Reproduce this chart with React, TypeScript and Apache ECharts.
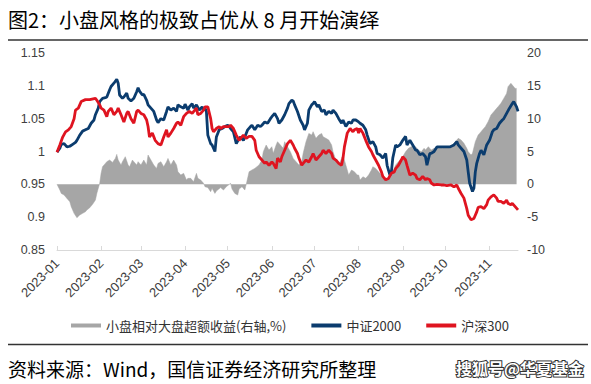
import React, { useEffect, useRef } from 'react';
import * as echarts from 'echarts';

// Day offsets from 2023-01-01 of each month start, and their tick labels
const monthStartDays = [0, 31, 59, 90, 120, 151, 181, 212, 243, 273, 304];
const monthLabels = ['2023-01', '2023-02', '2023-03', '2023-04', '2023-05', '2023-06', '2023-07', '2023-08', '2023-09', '2023-10', '2023-11'];

const seriesNames = ['小盘相对大盘超额收益(右轴,%)', '中证2000', '沪深300'];

// [day offset from 2023-01-01, normalized index]
const csi2000: [number, number][] = [
  [0, 0.999], [2, 1.005], [3, 1.011], [5, 1.012], [7, 1.007], [9, 1.008], [11, 1.011], [13, 1.014], [14, 1.017], [16, 1.025],
  [18, 1.031], [20, 1.033], [22, 1.035], [24, 1.043], [26, 1.048], [27, 1.056], [29, 1.066], [30, 1.076], [32, 1.081], [34, 1.082],
  [35, 1.083], [37, 1.094], [38, 1.099], [40, 1.104], [42, 1.110], [43, 1.104], [44, 1.086], [46, 1.081], [47, 1.083], [49, 1.089],
  [50, 1.081], [52, 1.077], [54, 1.081], [56, 1.091], [57, 1.097], [58, 1.092], [60, 1.086], [61, 1.087], [63, 1.078], [64, 1.071],
  [66, 1.066], [68, 1.061], [70, 1.048], [71, 1.044], [73, 1.050], [75, 1.048], [77, 1.061], [78, 1.068], [80, 1.063], [82, 1.066],
  [84, 1.061], [85, 1.071], [87, 1.068], [89, 1.066], [90, 1.072], [92, 1.063], [93, 1.068], [95, 1.073], [96, 1.066], [98, 1.071],
  [100, 1.063], [102, 1.068], [103, 1.063], [104, 1.066], [105, 1.061], [106, 1.025], [108, 1.012], [109, 1.010], [111, 1.000], [112, 1.022],
  [114, 1.033], [116, 1.035], [118, 1.038], [120, 1.040], [121, 1.038], [122, 1.035], [124, 1.030], [126, 1.012], [128, 1.020], [129, 1.022],
  [131, 1.017], [132, 1.022], [134, 1.033], [136, 1.038], [137, 1.040], [139, 1.033], [141, 1.040], [143, 1.038], [144, 1.040], [146, 1.045],
  [148, 1.043], [150, 1.050], [151, 1.053], [153, 1.058], [155, 1.050], [156, 1.043], [158, 1.048], [160, 1.056], [162, 1.066], [163, 1.073],
  [165, 1.078], [166, 1.077], [167, 1.071], [169, 1.061], [171, 1.048], [173, 1.040], [174, 1.033], [176, 1.043], [177, 1.063], [179, 1.071],
  [180, 1.073], [181, 1.076], [183, 1.068], [184, 1.071], [186, 1.061], [188, 1.063], [189, 1.056], [191, 1.061], [193, 1.058], [194, 1.063],
  [196, 1.058], [198, 1.050], [200, 1.043], [201, 1.048], [203, 1.038], [205, 1.045], [207, 1.043], [208, 1.048], [210, 1.048], [212, 1.045],
  [213, 1.043], [215, 1.040], [217, 1.033], [218, 1.025], [220, 1.012], [222, 1.015], [224, 1.007], [225, 0.997], [227, 0.995], [229, 0.990],
  [231, 0.997], [232, 0.979], [234, 0.964], [235, 0.969], [236, 0.990], [238, 1.010], [239, 1.007], [241, 1.010], [243, 1.017], [245, 1.023],
  [246, 1.010], [248, 1.017], [250, 1.010], [252, 1.002], [253, 1.002], [255, 0.995], [257, 0.997], [259, 0.992], [260, 0.979], [262, 0.997],
  [263, 0.997], [265, 1.000], [267, 1.007], [269, 1.007], [272, 1.007], [274, 1.007], [276, 1.007], [279, 1.010], [281, 1.015], [282, 1.010],
  [284, 1.005], [286, 1.000], [288, 0.987], [289, 0.969], [290, 0.952], [292, 0.939], [293, 0.944], [294, 0.969], [295, 0.982], [297, 0.997],
  [298, 1.002], [300, 0.995], [302, 1.010], [304, 1.017], [306, 1.030], [307, 1.033], [309, 1.035], [311, 1.043], [313, 1.048], [314, 1.050],
  [316, 1.058], [318, 1.066], [320, 1.073], [321, 1.076], [323, 1.068], [324, 1.061],
];

const hs300: [number, number][] = [
  [0, 0.999], [2, 1.010], [4, 1.022], [6, 1.030], [8, 1.033], [10, 1.038], [12, 1.050], [13, 1.063], [15, 1.066], [17, 1.076],
  [20, 1.079], [23, 1.079], [27, 1.081], [28, 1.078], [30, 1.071], [31, 1.066], [33, 1.063], [35, 1.053], [36, 1.061], [38, 1.066],
  [40, 1.056], [42, 1.061], [43, 1.066], [45, 1.056], [47, 1.045], [49, 1.058], [50, 1.061], [52, 1.050], [54, 1.043], [56, 1.061],
  [57, 1.063], [59, 1.058], [61, 1.056], [63, 1.048], [64, 1.038], [65, 1.022], [67, 1.028], [69, 1.017], [71, 1.012], [73, 1.010],
  [75, 1.022], [77, 1.033], [78, 1.022], [80, 1.028], [82, 1.035], [84, 1.043], [85, 1.045], [87, 1.040], [89, 1.053], [91, 1.058],
  [93, 1.061], [95, 1.058], [98, 1.066], [99, 1.056], [101, 1.058], [103, 1.063], [104, 1.068], [106, 1.068], [108, 1.050], [109, 1.035],
  [110, 1.030], [112, 1.035], [114, 1.038], [115, 1.035], [117, 1.038], [119, 1.038], [121, 1.038], [122, 1.040], [124, 1.035], [126, 1.025],
  [128, 1.017], [129, 1.020], [131, 1.025], [133, 1.020], [135, 1.023], [137, 1.023], [139, 1.017], [140, 1.002], [142, 0.992], [144, 0.987],
  [146, 0.982], [147, 0.984], [149, 0.979], [151, 0.984], [152, 0.982], [154, 0.974], [155, 0.990], [157, 0.984], [158, 0.992], [160, 1.002],
  [162, 1.012], [164, 1.017], [166, 1.010], [167, 1.005], [169, 0.997], [170, 0.990], [172, 0.979], [173, 0.982], [175, 0.987], [177, 0.984],
  [179, 0.992], [180, 0.997], [182, 0.987], [184, 0.992], [186, 0.997], [187, 1.002], [189, 0.997], [191, 1.002], [193, 0.997], [194, 0.990],
  [196, 0.987], [198, 0.982], [200, 0.979], [201, 0.990], [202, 1.007], [204, 1.028], [206, 1.035], [208, 1.030], [209, 1.033], [211, 1.035],
  [212, 1.028], [213, 1.035], [215, 1.028], [217, 1.017], [219, 1.007], [221, 1.000], [222, 0.995], [224, 0.987], [226, 0.979], [228, 0.969],
  [229, 0.962], [231, 0.957], [233, 0.959], [235, 0.967], [237, 0.969], [238, 0.974], [240, 0.979], [242, 0.987], [243, 0.992], [245, 0.987],
  [246, 0.979], [248, 0.964], [250, 0.967], [252, 0.964], [253, 0.959], [255, 0.957], [257, 0.962], [259, 0.957], [260, 0.959], [262, 0.957],
  [263, 0.952], [265, 0.949], [267, 0.950], [270, 0.949], [272, 0.949], [274, 0.948], [277, 0.949], [279, 0.946], [281, 0.949], [282, 0.944],
  [284, 0.936], [286, 0.929], [288, 0.913], [289, 0.903], [291, 0.896], [293, 0.898], [295, 0.908], [296, 0.915], [298, 0.916], [300, 0.913],
  [302, 0.919], [303, 0.926], [305, 0.931], [307, 0.934], [309, 0.929], [310, 0.924], [312, 0.924], [314, 0.921], [316, 0.926], [317, 0.921],
  [319, 0.919], [320, 0.921], [322, 0.916], [324, 0.911],
];

// Small-cap excess return over large-cap, % (right axis)
const excess: [number, number][] = [
  [0, 0], [2, -0.87], [3, -1.38], [5, -1.63], [7, -2.14], [9, -2.64], [10, -3.4], [12, -4.42], [14, -5.08], [16, -4.67],
  [18, -4.42], [20, -4.17], [21, -3.91], [23, -3.56], [25, -3.05], [27, -2.39], [28, -1.38], [30, 0.15], [31, 1.67], [32, 2.68],
  [34, 3.19], [35, 3.45], [37, 3.7], [39, 3.34], [41, 3.95], [42, 4.56], [43, 3.7], [45, 2.94], [46, 3.45], [48, 4.21],
  [50, 2.94], [51, 2.68], [53, 3.7], [54, 3.45], [56, 2.94], [57, 3.45], [59, 2.94], [61, 3.7], [63, 2.94], [64, 4.46],
  [66, 3.7], [68, 2.94], [70, 2.43], [71, 3.19], [73, 3.45], [75, 2.68], [77, 3.45], [78, 3.95], [80, 2.94], [82, 3.7],
  [84, 2.94], [85, 1.92], [87, 1.42], [89, 1.67], [91, 0.65], [92, 0.91], [94, 0.91], [96, 0.4], [98, 1.67], [99, 0.91],
  [101, 0.65], [103, 0.15], [104, -0.36], [106, -0.5], [108, -1.12], [109, -0.61], [111, -1.38], [112, -1.02], [115, -0.5], [117, -0.87],
  [119, -0.36], [122, 0.15], [123, -0.72], [125, -1.38], [127, -1.63], [128, -0.72], [130, -0.36], [132, -0.87], [133, 0], [135, 1.92],
  [137, 2.18], [139, 2.43], [142, 2.94], [144, 3.7], [145, 4.97], [147, 5.99], [149, 5.22], [151, 5.73], [152, 4.72], [154, 5.99],
  [155, 6.49], [157, 5.99], [159, 5.48], [160, 6.49], [162, 5.73], [164, 4.97], [166, 3.95], [168, 3.45], [170, 2.94], [172, 3.45],
  [173, 4.72], [175, 6.49], [177, 7.76], [179, 7.51], [180, 8.02], [182, 7.0], [184, 7.51], [186, 7.76], [187, 7.25], [189, 7.0],
  [191, 6.75], [193, 5.99], [194, 4.97], [196, 3.7], [198, 2.94], [200, 3.95], [201, 4.46], [203, 2.94], [205, 1.42], [207, 2.18],
  [209, 1.92], [211, 1.42], [212, 1.42], [213, 0.65], [215, 1.16], [217, 0.91], [219, 1.42], [221, 2.18], [222, 2.68], [224, 2.43],
  [226, 1.92], [228, 1.42], [229, 0.91], [231, 0.65], [233, 1.01], [235, 1.67], [236, 1.92], [238, 2.94], [240, 3.45], [242, 3.95],
  [243, 4.21], [245, 4.97], [247, 5.48], [249, 5.73], [250, 5.99], [252, 5.73], [254, 5.22], [256, 4.97], [258, 5.48], [259, 5.22],
  [261, 5.73], [263, 5.22], [265, 5.48], [266, 5.48], [269, 5.73], [271, 5.48], [273, 5.73], [276, 5.48], [278, 5.99], [280, 6.49],
  [282, 7.0], [284, 6.75], [286, 6.24], [288, 5.48], [289, 4.97], [291, 4.46], [292, 4.72], [294, 6.49], [296, 7.51], [297, 7.76],
  [299, 8.27], [301, 8.78], [303, 9.54], [305, 10.55], [307, 11.06], [309, 11.57], [310, 11.82], [312, 12.33], [314, 13.09], [316, 13.85],
  [317, 14.87], [319, 15.38], [320, 15.12], [322, 14.61], [323, 14.61],
];

const CJK = '"Noto Sans CJK SC", sans-serif';
const LATIN = '"Liberation Sans", Arial, sans-serif';

export default function App() {
  const ref = useRef<HTMLDivElement>(null);

  useEffect(() => {
    document.body.style.margin = '0';
    const chart = echarts.init(ref.current!, null, { renderer: 'svg' });
    chart.setOption({
      animation: false,
      backgroundColor: '#ffffff',
      grid: { left: 57, right: 73, top: 53, height: 197, containLabel: false },
      legend: {
        top: 314,
        left: 66,
        itemWidth: 30,
        itemHeight: 4,
        itemGap: 25,
        icon: 'rect',
        textStyle: { fontSize: 13, fontFamily: CJK, color: '#333333' },
        data: seriesNames,
      },
      xAxis: {
        type: 'value',
        min: 0,
        max: 324,
        axisLine: { show: true, onZero: false, lineStyle: { color: '#d9d9d9', width: 1 } },
        axisTick: { show: true, inside: true, length: 4, customValues: monthStartDays, lineStyle: { color: '#d9d9d9' } },
        axisLabel: {
          customValues: monthStartDays,
          rotate: 45,
          margin: 11,
          fontSize: 13,
          fontFamily: LATIN,
          color: '#404040',
          formatter: (v: number) => {
            const i = monthStartDays.indexOf(Math.round(v));
            return i >= 0 ? monthLabels[i] : '';
          },
        },
        splitLine: { show: false },
      },
      yAxis: [
        {
          type: 'value',
          min: 0.85,
          max: 1.15,
          interval: 0.05,
          axisLine: { show: false },
          axisTick: { show: false },
          splitLine: { show: false },
          axisLabel: {
            margin: 12,
            fontSize: 12.5,
            fontFamily: LATIN,
            color: '#404040',
            formatter: (v: number) => String(+v.toFixed(2)),
          },
        },
        {
          type: 'value',
          position: 'right',
          min: -10,
          max: 20,
          interval: 5,
          axisLine: { show: false },
          axisTick: { show: false },
          splitLine: { show: false },
          axisLabel: { margin: 9, fontSize: 12.5, fontFamily: LATIN, color: '#404040' },
        },
      ],
      series: [
        {
          name: seriesNames[0],
          type: 'line',
          yAxisIndex: 1,
          data: excess,
          showSymbol: false,
          lineStyle: { width: 0.5, color: '#a6a6a6' },
          itemStyle: { color: '#a6a6a6' },
          areaStyle: { color: '#a6a6a6', opacity: 1 },
          z: 1,
        },
        {
          name: seriesNames[1],
          type: 'line',
          yAxisIndex: 0,
          data: csi2000,
          showSymbol: false,
          lineStyle: { width: 2.8, color: '#0b3c6e' },
          itemStyle: { color: '#0b3c6e' },
          z: 2,
        },
        {
          name: seriesNames[2],
          type: 'line',
          yAxisIndex: 0,
          data: hs300,
          showSymbol: false,
          lineStyle: { width: 2.8, color: '#df1420' },
          itemStyle: { color: '#df1420' },
          z: 3,
        },
      ],
      graphic: [
        {
          type: 'text',
          x: 8,
          y: 19,
          style: { text: '图2：小盘风格的极致占优从 8 月开始演绎', fontSize: 20, fontFamily: CJK, fill: '#000000', verticalAlign: 'middle' },
        },
        { type: 'line', shape: { x1: 8, y1: 40, x2: 588, y2: 40 }, style: { stroke: '#333333', lineWidth: 1.5 } },
        { type: 'line', shape: { x1: 8, y1: 344.5, x2: 588, y2: 344.5 }, style: { stroke: '#333333', lineWidth: 1.5 } },
        {
          type: 'text',
          x: 8,
          y: 368,
          style: { text: '资料来源：Wind，国信证券经济研究所整理', fontSize: 19, fontFamily: CJK, fill: '#000000', verticalAlign: 'middle' },
        },
        {
          type: 'text',
          x: 456,
          y: 368,
          style: {
            text: '搜狐号@华夏基金',
            fontSize: 16,
            fontWeight: 'bold',
            fontFamily: CJK,
            fill: '#ffffff',
            stroke: '#333333',
            lineWidth: 2,
            strokeFirst: true,
            verticalAlign: 'middle',
          },
        },
      ],
    });
    return () => chart.dispose();
  }, []);

  return <div ref={ref} style={{ width: 591, height: 384, background: '#fff' }} />;
}
